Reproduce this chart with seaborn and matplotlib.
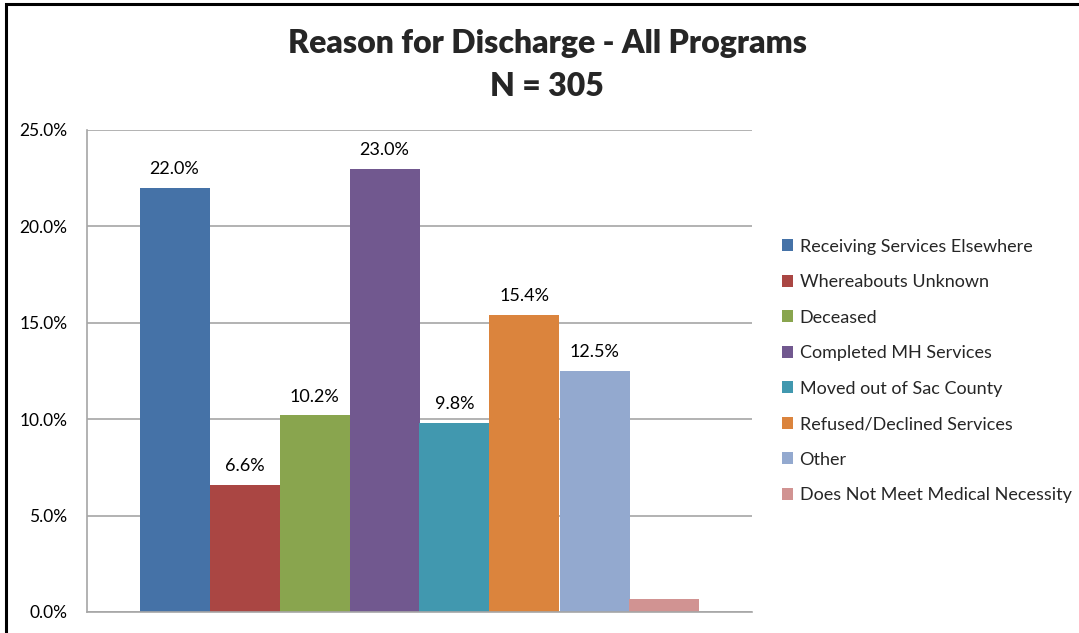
import matplotlib
matplotlib.use("Agg")
import matplotlib.pyplot as plt
import matplotlib.patches as mpatches
import pandas as pd
import seaborn as sns

reasons = [
    "Receiving Services Elsewhere",
    "Whereabouts Unknown",
    "Deceased",
    "Completed MH Services",
    "Moved out of Sac County",
    "Refused/Declined Services",
    "Other",
    "Does Not Meet Medical Necessity",
]
percents = [22.0, 6.6, 10.2, 23.0, 9.8, 15.4, 12.5, 0.7]
labeled = [True, True, True, True, True, True, True, False]
colors = ["#4572A7", "#AA4643", "#89A54E", "#71588F",
          "#4198AF", "#DB843D", "#93A9CF", "#D19392"]
y_ticks = [0, 5, 10, 15, 20, 25]

sns.set_theme(style="white")
plt.rcParams["font.family"] = ["Lato", "DejaVu Sans"]

df = pd.DataFrame({"reason": reasons, "pct": percents})

W, H = 1079, 633
fig = plt.figure(figsize=(W / 100, H / 100), dpi=100)
ax = fig.add_axes([87 / W, 1 - 612 / H, (752 - 87) / W, (612 - 130) / H])

sns.barplot(data=df, x="reason", y="pct", hue="reason", order=reasons,
            hue_order=reasons, palette=colors, width=1.0, dodge=False,
            saturation=1.0, legend=True, ax=ax, linewidth=0)

ax.set_xlim(-1.25, len(reasons) + 0.25)
ax.set_ylim(0, 25)
ax.set_yticks(y_ticks)
ax.set_yticklabels([f"{t:.1f}%" for t in y_ticks], fontsize=12.5, color="#000000")
ax.set_xticks([])
ax.set_xlabel("")
ax.set_ylabel("")
ax.tick_params(axis="y", length=0, pad=14)
ax.grid(axis="y", color="#A6A6A6", linewidth=1.2)
ax.set_axisbelow(True)
for side in ["top", "right"]:
    ax.spines[side].set_visible(False)
for side in ["left", "bottom"]:
    ax.spines[side].set_color("#A6A6A6")
    ax.spines[side].set_linewidth(1.2)

for i, (v, show) in enumerate(zip(percents, labeled)):
    if show:
        ax.text(i, v + 0.55, f"{v:.1f}%", ha="center", va="bottom",
                fontsize=13, color="#000000")

handles, labels = ax.get_legend_handles_labels()
ax.legend(handles, labels, loc="center left", bbox_to_anchor=(1.02, 0.5),
          frameon=False, fontsize=13, handlelength=0.65, handleheight=0.65,
          handletextpad=0.35, labelspacing=1.08)

fig.text(547 / W, 1 - 43 / H, "Reason for Discharge - All Programs",
         ha="center", va="center", fontsize=23, fontweight="heavy")
fig.text(547 / W, 1 - 86 / H, "N = 305",
         ha="center", va="center", fontsize=23, fontweight="heavy")

fig.patches.append(mpatches.Rectangle((6 / W, -0.2), 1.2, 1.2 - 4 / H,
                                      transform=fig.transFigure, fill=False,
                                      edgecolor="black", linewidth=2.2))

fig.savefig("out.png", dpi=100)
